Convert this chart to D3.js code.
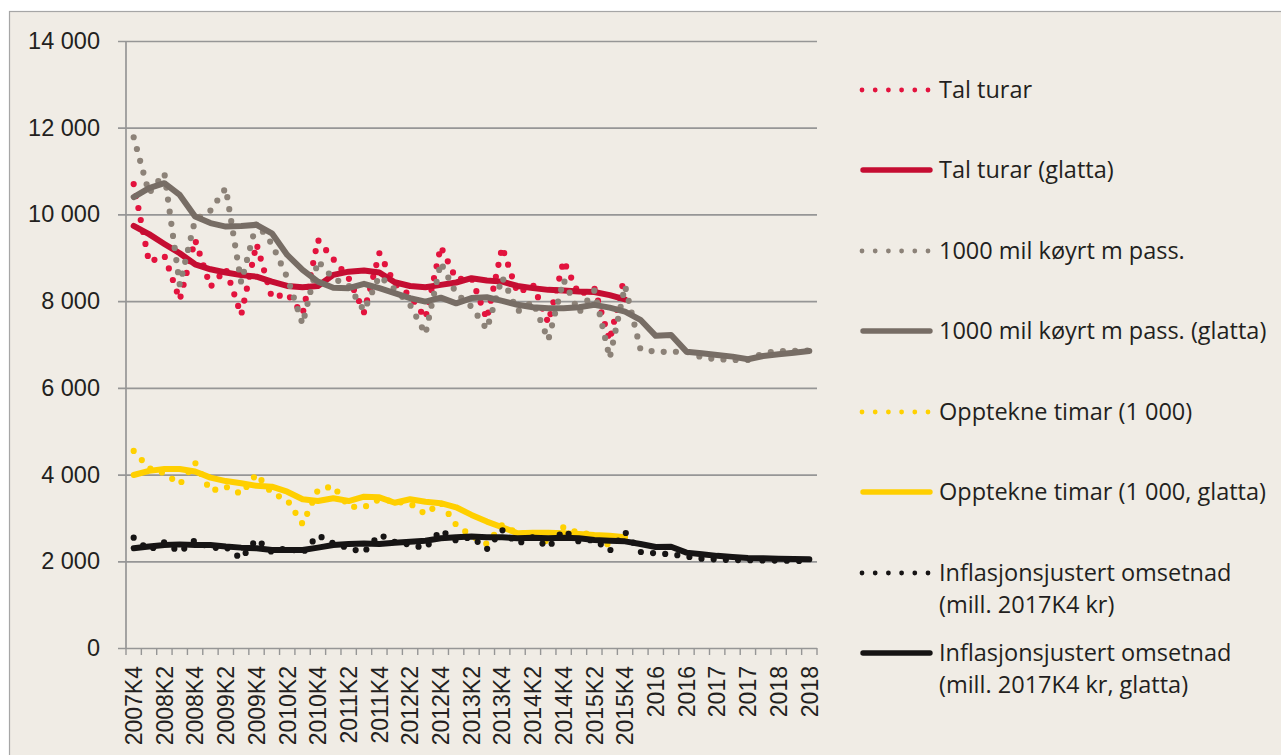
<!DOCTYPE html>
<html>
<head>
<meta charset="utf-8">
<script src="https://cdn.jsdelivr.net/npm/d3@7"></script>
<style>
  html, body { margin: 0; padding: 0; background: #fff; }
  svg { display: block; font-family: "Open Sans", sans-serif; }
</style>
</head>
<body>
<div id="chart"></div>
<script>
// --- data (quarterly, 2007K4 - 2018K4) ---
const categories = [
  '2007K4',
  '2008K1', '2008K2', '2008K3', '2008K4',
  '2009K1', '2009K2', '2009K3', '2009K4',
  '2010K1', '2010K2', '2010K3', '2010K4',
  '2011K1', '2011K2', '2011K3', '2011K4',
  '2012K1', '2012K2', '2012K3', '2012K4',
  '2013K1', '2013K2', '2013K3', '2013K4',
  '2014K1', '2014K2', '2014K3', '2014K4',
  '2015K1', '2015K2', '2015K3', '2015K4',
  '2016', '2016', '2016', '2016',
  '2017', '2017', '2017', '2017',
  '2018', '2018', '2018', '2018'
];

const talTurar = [10700, 8900, 9050, 8030, 9415, 8330, 8745, 7680, 9320, 8080,
  8170, 7700, 9410, 8970, 8530, 7745, 9105, 8400, 8135, 7605,
  9260, 8510, 8530, 7585, 9245, 8185, 8380, 7500, 8930, 8145,
  8300, 7090, 8620];

const talTurarGlatta = [9735, 9545, 9320, 9105, 8850, 8735, 8660, 8600, 8565, 8450,
  8350, 8320, 8350, 8605, 8680, 8705, 8660, 8435, 8350, 8320,
  8375, 8430, 8530, 8475, 8450, 8350, 8300, 8260, 8245, 8220,
  8210, 8140, 8040];

const milKoyrt = [11780, 10490, 10950, 8375, 9875, 10090, 10610, 8430, 9800, 9320,
  8545, 7470, 8930, 8520, 8360, 7780, 8580, 8275, 7915, 7240,
  8890, 8180, 7870, 7350, 8550, 7760, 7990, 7105, 8490, 7735,
  8245, 6685, 8350, 6895, 6830, 6830, 6840, 6700, 6660, 6645,
  6645, 6800, 6845, 6850, 6860];

const milKoyrtGlatta = [10400, 10605, 10720, 10450, 9950, 9800, 9720, 9735, 9760, 9565,
  9065, 8720, 8450, 8310, 8300, 8400, 8300, 8185, 8070, 7990,
  8080, 7950, 8070, 8090, 8005, 7915, 7860, 7835, 7835, 7860,
  7915, 7850, 7760, 7570, 7200, 7220, 6835, 6800, 6760, 6720,
  6660, 6735, 6775, 6810, 6850];

const timar = [4545, 4150, 4030, 3775, 4275, 3620, 3720, 3555, 4015, 3570,
  3415, 2860, 3645, 3735, 3260, 3245, 3430, 3380, 3330, 3090,
  3355, 2840, 2585, 2400, 2840, 2645, 2655, 2430, 2790, 2650,
  2620, 2355, 2670];

const timarGlatta = [3990, 4085, 4130, 4130, 4070, 3930, 3850, 3800, 3740, 3720,
  3605, 3430, 3390, 3455, 3390, 3490, 3475, 3350, 3430, 3375,
  3340, 3245, 3070, 2915, 2785, 2645, 2660, 2660, 2645, 2630,
  2605, 2590, 2555];

const omsetnad = [2545, 2260, 2440, 2210, 2490, 2300, 2330, 2060, 2510, 2210,
  2315, 2190, 2600, 2415, 2300, 2210, 2615, 2450, 2380, 2300,
  2720, 2475, 2560, 2280, 2720, 2400, 2560, 2315, 2720, 2450,
  2500, 2240, 2675, 2215, 2185, 2160, 2110, 2060, 2040, 2030,
  2025, 2020, 2015, 2010, 2005];

const omsetnadGlatta = [2300, 2340, 2375, 2390, 2375, 2375, 2340, 2315, 2300, 2260,
  2260, 2260, 2315, 2375, 2400, 2410, 2400, 2430, 2450, 2475,
  2530, 2555, 2570, 2555, 2555, 2530, 2545, 2530, 2545, 2530,
  2490, 2475, 2460, 2400, 2330, 2335, 2200, 2160, 2125, 2100,
  2075, 2070, 2060, 2055, 2045];

const yTicks = [0, 2000, 4000, 6000, 8000, 10000, 12000, 14000];

const series = [
  { name: ['Tal turar'], values: talTurar, color: '#e3133e', dotted: true },
  { name: ['Tal turar (glatta)'], values: talTurarGlatta, color: '#c50d32', dotted: false },
  { name: ['1000 mil køyrt m pass.'], values: milKoyrt, color: '#8c8278', dotted: true },
  { name: ['1000 mil køyrt m pass. (glatta)'], values: milKoyrtGlatta, color: '#776d65', dotted: false },
  { name: ['Opptekne timar (1 000)'], values: timar, color: '#ffd100', dotted: true },
  { name: ['Opptekne timar (1 000, glatta)'], values: timarGlatta, color: '#ffcf00', dotted: false },
  { name: ['Inflasjonsjustert omsetnad', '(mill. 2017K4 kr)'], values: omsetnad, color: '#161414', dotted: true },
  { name: ['Inflasjonsjustert omsetnad', '(mill. 2017K4 kr, glatta)'], values: omsetnadGlatta, color: '#161414', dotted: false }
];

// --- layout ---
const W = 1281, H = 755;
const plot = { left: 126, right: 817, top: 41, bottom: 648 };
const textColor = '#231f20';
const gridColor = '#969696';

const locale = d3.formatLocale({ decimal: ',', thousands: ' ', grouping: [3], currency: ['', ' kr'] });
const fmt = locale.format(',d');

const svg = d3.select('#chart').append('svg')
  .attr('width', W)
  .attr('height', H);

// outer frame
svg.append('rect')
  .attr('x', 9.5).attr('y', 11.5)
  .attr('width', W).attr('height', H)
  .attr('fill', '#f0ece5')
  .attr('stroke', '#a6a6a6')
  .attr('stroke-width', 1.2);

const x = d3.scaleBand()
  .domain(d3.range(categories.length))
  .range([plot.left, plot.right])
  .paddingInner(0).paddingOuter(0);

const y = d3.scaleLinear()
  .domain([0, 14000])
  .range([plot.bottom, plot.top]);

// y axis with gridlines
const yAxisX = 118;
const yAxis = svg.append('g')
  .attr('transform', `translate(${yAxisX},0)`)
  .call(d3.axisLeft(y)
    .tickValues(yTicks)
    .tickFormat(fmt)
    .tickSize(-(plot.right - yAxisX))
    .tickPadding(18));
yAxis.select('.domain').remove();
yAxis.selectAll('.tick line')
  .attr('stroke', gridColor)
  .attr('stroke-width', 1.7);
yAxis.selectAll('.tick text')
  .attr('fill', textColor)
  .style('font-size', '23.5px');

// vertical axis line
svg.append('line')
  .attr('x1', plot.left).attr('x2', plot.left)
  .attr('y1', plot.top).attr('y2', plot.bottom)
  .attr('stroke', gridColor)
  .attr('stroke-width', 1.7);

// x axis labels (every second quarter)
const xAxis = svg.append('g')
  .attr('transform', `translate(0,${plot.bottom})`)
  .call(d3.axisBottom(x)
    .tickValues(d3.range(0, categories.length, 2))
    .tickFormat(i => categories[i])
    .tickSize(0));
xAxis.select('.domain').remove();
xAxis.selectAll('.tick text')
  .attr('fill', textColor)
  .style('font-size', '23px')
  .attr('text-anchor', 'end')
  .attr('transform', 'rotate(-90)')
  .attr('x', -18)
  .attr('y', 0)
  .attr('dy', '0.36em');

// x tick marks at category boundaries
const bounds = d3.range(categories.length + 1).map(k => plot.left + k * x.step());
svg.append('g')
  .selectAll('line')
  .data(bounds)
  .join('line')
  .attr('x1', d => d).attr('x2', d => d)
  .attr('y1', plot.bottom).attr('y2', plot.bottom + 7)
  .attr('stroke', gridColor)
  .attr('stroke-width', 1.4);

// --- series ---
const line = d3.line()
  .defined(d => d != null)
  .x((d, i) => x(i) + x.bandwidth() / 2)
  .y(d => y(d));

const lines = svg.append('g');
series.forEach(s => {
  const p = lines.append('path')
    .datum(s.values)
    .attr('fill', 'none')
    .attr('stroke', s.color)
    .attr('stroke-linecap', 'round')
    .attr('stroke-linejoin', 'round')
    .attr('d', line);
  if (s.dotted) {
    p.attr('stroke-width', 6.2).attr('stroke-dasharray', '0 12.2');
  } else {
    p.attr('stroke-width', 6);
  }
});

// --- legend ---
const legendY = [90, 170, 251, 331, 412, 492, 573, 653];
const legend = svg.append('g');
series.forEach((s, k) => {
  const g = legend.append('g').attr('transform', `translate(0,${legendY[k]})`);
  if (s.dotted) {
    g.append('line')
      .attr('x1', 862).attr('x2', 928.5)
      .attr('stroke', s.color)
      .attr('stroke-width', 4.8)
      .attr('stroke-linecap', 'round')
      .attr('stroke-dasharray', '0 13.2');
  } else {
    g.append('line')
      .attr('x1', 863).attr('x2', 930)
      .attr('stroke', s.color)
      .attr('stroke-width', 5.4)
      .attr('stroke-linecap', 'round');
  }
  s.name.forEach((t, j) => {
    g.append('text')
      .attr('x', 939)
      .attr('y', j * 32)
      .attr('dy', '0.35em')
      .attr('fill', textColor)
      .style('font-size', '23.5px')
      .text(t);
  });
});
</script>
</body>
</html>
